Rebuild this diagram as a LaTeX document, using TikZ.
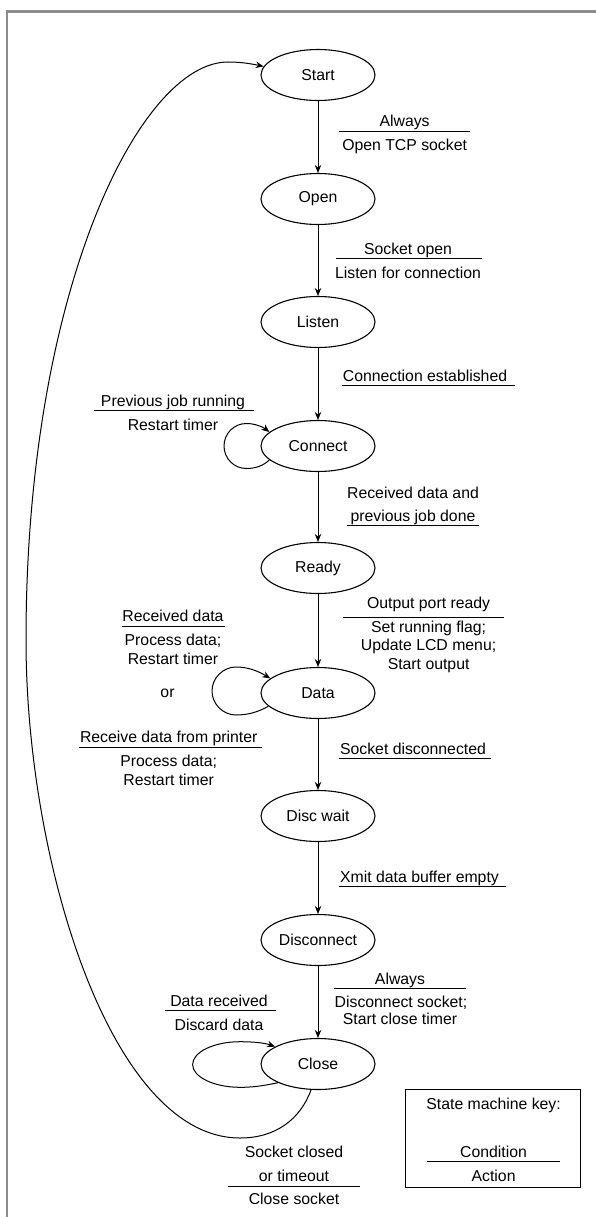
\documentclass[tikz,border=0pt]{standalone}
\usepackage{fontspec}
\setmainfont{Liberation Sans}
\usetikzlibrary{arrows.meta,shapes.geometric}
\definecolor{framegray}{RGB}{140,140,140}
\newcommand\lblfont{\fontsize{15.8}{18.5}\selectfont}
\begin{document}
\begin{tikzpicture}[x=1pt,y=-1pt,
  state/.style={ellipse, draw, line width=1.1pt, minimum width=114pt, minimum height=51pt, inner sep=0pt, font=\lblfont},
  txt/.style={anchor=base, inner sep=0pt, font=\lblfont},
  sepline/.style={line width=1pt},
  arr/.style={line width=1pt, -{Stealth[length=8pt,width=6.5pt]}}]
\useasboundingbox (0,0) rectangle (596,1217);
% frame
\draw[line width=2.5pt, framegray] (7,1217) -- (7,11.3) -- (596,11.3);

% states
\node[state] (start) at (318,75) {Start};
\node[state] (open) at (318,199) {Open};
\node[state] (listen) at (318,322) {Listen};
\node[state] (connect) at (318,446) {Connect};
\node[state] (ready) at (318,568) {Ready};
\node[state] (data) at (318,693) {Data};
\node[state] (discwait) at (318,816) {Disc wait};
\node[state] (disconnect) at (318,940) {Disconnect};
\node[state] (close) at (318,1064) {Close};

% vertical transitions
\draw[arr] (start) -- (open);
\draw[arr] (open) -- (listen);
\draw[arr] (listen) -- (connect);
\draw[arr] (connect) -- (ready);
\draw[arr] (ready) -- (data);
\draw[arr] (data) -- (discwait);
\draw[arr] (discwait) -- (disconnect);
\draw[arr] (disconnect) -- (close);

% self loops
\draw[arr] (connect.196) .. controls (263,466) and (255,468.5) .. (246.5,468.5)
  .. controls (234,468.5) and (224,458.5) .. (224,446)
  .. controls (224,433.5) and (234,423.5) .. (246.5,423.5)
  .. controls (255,423.5) and (263,427) .. (connect.164);
\draw[arr] (data.195) .. controls (258,712) and (248,715) .. (236,715)
  .. controls (223,715) and (212,704) .. (212,691)
  .. controls (212,678) and (223,667) .. (236,667)
  .. controls (248,667) and (258,671) .. (data.163);
\draw[arr] (close.205) .. controls (262,1086) and (253,1087.3) .. (240,1087.3)
  .. controls (214,1087.3) and (192.6,1077) .. (192.6,1064.5)
  .. controls (192.6,1052) and (214,1041.7) .. (240,1041.7)
  .. controls (254,1041.7) and (265,1043) .. (close.158);

% return transition
\draw[arr] (close.255) .. controls (300,1120) and (275,1138) .. (240,1138)
  .. controls (110,1138) and (26,860) .. (26,640)
  .. controls (26,290) and (140,62) .. (228,62)
  .. controls (242,62) and (252,64) .. (start.171);

% labels
\node[txt] (l1a) at (404.6,127) {Always};
\draw[sepline] (338.5,132) -- (469.6,132);
\node[txt] (l1b) at (404.6,151) {Open TCP socket};

\node[txt] (l2a) at (408,254) {Socket open};
\draw[sepline] (336,258) -- (482,258);
\node[txt] (l2b) at (408,278) {Listen for connection};

\node[txt] (l3a) at (425,381) {Connection established};
\draw[sepline] (342,385) -- (515,385);

\node[txt] (l4a) at (173,406) {Previous job running};
\draw[sepline] (93.5,410) -- (254,410);
\node[txt] (l4b) at (173,430) {Restart timer};

\node[txt] (l5a) at (413,498) {Received data and};
\node[txt] (l5b) at (413,521) {previous job done};
\draw[sepline] (346.5,525) -- (478.7,525);

\node[txt] (l6a) at (428.6,608) {Output port ready};
\draw[sepline] (343,617.7) -- (504,617.7);
\node[txt] (l6b) at (428.6,632) {Set running flag;};
\node[txt] (l6c) at (428.6,650.5) {Update LCD menu;};
\node[txt] (l6d) at (428.6,669) {Start output};

\node[txt] (l7a) at (173,621) {Received data};
\draw[sepline] (122,626) -- (224.5,626);
\node[txt] (l7b) at (173,645) {Process data;};
\node[txt] (l7c) at (173,664) {Restart timer};

\node[txt] (lor) at (167.5,697) {or};

\node[txt] (l8a) at (168.7,742) {Receive data from printer};
\draw[sepline] (78.6,747) -- (262,747);
\node[txt] (l8b) at (168.7,766) {Process data;};
\node[txt] (l8c) at (168.7,785) {Restart timer};

\node[txt] (l9a) at (413,754) {Socket disconnected};
\draw[sepline] (338.5,758) -- (491,758);

\node[txt] (l10a) at (419.5,882) {Xmit data buffer empty};
\draw[sepline] (338.5,886) -- (506,886);

\node[txt] (l11a) at (400,984) {Always};
\draw[sepline] (334,988) -- (466,988);
\node[txt] (l11b) at (401,1007.5) {Disconnect socket;};
\node[txt] (l11c) at (400,1024) {Start close timer};

\node[txt] (l12a) at (219,1006) {Data received};
\draw[sepline] (165,1010) -- (276,1010);
\node[txt] (l12b) at (219,1030) {Discard data};

\node[txt] (l13a) at (294,1157) {Socket closed};
\node[txt] (l13b) at (294,1181) {or timeout};
\draw[sepline] (228,1186) -- (360,1186);
\node[txt] (l13c) at (294,1204) {Close socket};

% key
\node[draw, line width=1pt, minimum width=174.3pt, minimum height=98pt, inner sep=0pt] (key) at (492.85,1138.3) {};
\node[txt] (k1) at (493.6,1109) {State machine key:};
\node[txt] (k2) at (493.6,1157) {Condition};
\draw[sepline] (427.4,1161) -- (559.6,1161);
\node[txt] (k3) at (493.6,1181) {Action};
\end{tikzpicture}
\end{document}
